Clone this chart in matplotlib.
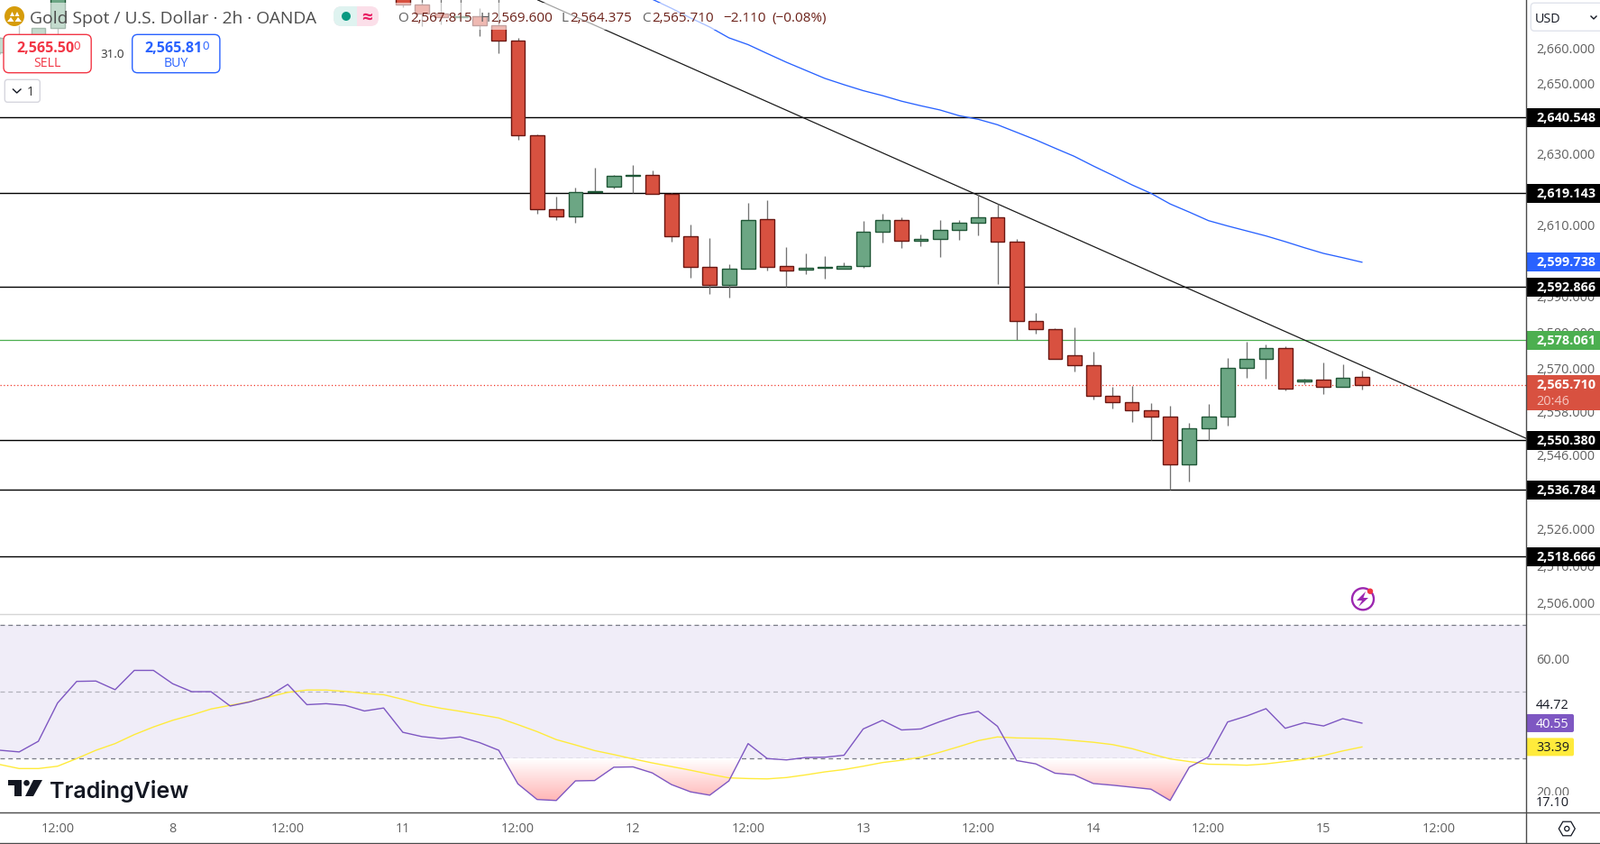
import numpy as np
import matplotlib
matplotlib.use("Agg")
import matplotlib.pyplot as plt
from matplotlib.colors import LinearSegmentedColormap
from matplotlib.patches import Circle, FancyBboxPatch, Polygon, Rectangle
from matplotlib.path import Path
from matplotlib.transforms import ScaledTranslation

plt.rcParams["font.family"] = "Open Sans"

###### DATA ######

# bar number, 2h bars, bars 4-20 are above the visible range
bar_t = [0, 1, 2, 3] + list(range(21, 72))
bar_open = [2659.1, 2661.2, 2662.5, 2666.2, 2676.0, 2672.8, 2670.2, 2669.3, 2669.4, 2666.8, 2662.4, 2635.4, 2614.5,
            2612.5, 2619.5, 2620.9, 2624.1, 2624.2, 2618.9, 2606.9, 2598.3, 2593.3, 2597.8, 2611.7, 2598.6, 2597.6,
            2598.2, 2597.8, 2598.8, 2608.2, 2611.5, 2605.7, 2606.2, 2608.7, 2610.7, 2612.3, 2605.4, 2583.25, 2581.0,
            2573.7, 2571.0, 2562.5, 2560.8, 2558.5, 2557.0, 2543.7, 2553.6, 2557.0, 2570.2, 2572.9, 2575.9, 2566.5,
            2567.0, 2565.0, 2567.815]
bar_high = [2663.6, 2666.9, 2666.2, 2677.0, 2677.0, 2674.5, 2674.5, 2674.5, 2671.8, 2675.0, 2663.2, 2635.8, 2618.1,
            2620.6, 2626.2, 2624.3, 2627.0, 2625.5, 2619.1, 2610.2, 2606.4, 2599.1, 2616.3, 2617.1, 2604.1, 2602.1,
            2601.4, 2599.8, 2611.3, 2613.3, 2612.3, 2607.4, 2611.6, 2611.5, 2618.9, 2616.1, 2606.2, 2585.6, 2581.3,
            2581.6, 2574.8, 2565.1, 2565.3, 2560.6, 2559.85, 2555.1, 2560.3, 2573.0, 2577.5, 2576.9, 2576.4, 2567.3,
            2571.8, 2571.2, 2569.6]
bar_low = [2658.7, 2660.7, 2662.0, 2664.2, 2672.1, 2666.6, 2667.2, 2668.0, 2663.9, 2659.0, 2634.3, 2613.4, 2611.6,
           2610.9, 2619.4, 2620.4, 2619.1, 2618.9, 2605.6, 2595.5, 2590.9, 2589.9, 2597.8, 2597.5, 2592.8, 2596.5,
           2595.2, 2597.8, 2598.2, 2605.3, 2603.8, 2604.3, 2601.3, 2606.1, 2607.3, 2593.7, 2578.0, 2579.9, 2572.7,
           2569.4, 2561.7, 2559.2, 2555.5, 2550.4, 2536.8, 2539.1, 2550.4, 2554.5, 2567.6, 2567.4, 2564.1, 2565.9,
           2563.2, 2565.0, 2564.375]
bar_close = [2663.2, 2663.3, 2666.2, 2676.5, 2672.8, 2670.2, 2669.2, 2669.6, 2666.8, 2662.4, 2635.4, 2614.5, 2612.5,
             2619.4, 2619.7, 2623.9, 2624.3, 2618.9, 2606.9, 2598.3, 2593.3, 2597.8, 2611.5, 2598.3, 2597.3, 2598.1,
             2598.4, 2598.8, 2608.2, 2611.5, 2605.7, 2606.2, 2608.7, 2610.7, 2612.3, 2605.4, 2583.25, 2581.0, 2572.7,
             2571.0, 2562.5, 2560.8, 2558.5, 2557.0, 2543.7, 2553.6, 2557.0, 2570.2, 2572.9, 2575.9, 2564.7, 2567.0,
             2565.0, 2567.7, 2565.71]

# moving average, starts at bar 33
ma_t = list(range(33, 72))
ma_values = [2676.2, 2674.4, 2671.8, 2669.0, 2666.4, 2663.3, 2661.35, 2658.8, 2656.3, 2654.0, 2651.7, 2649.9, 2648.2,
             2646.8, 2645.2, 2643.9, 2642.7, 2641.07, 2640.04, 2638.5, 2636.35, 2634.2, 2631.85, 2629.55, 2626.8,
             2624.2, 2621.5, 2619.1, 2616.1, 2613.8, 2611.4, 2609.9, 2608.5, 2607.1, 2605.5, 2603.8, 2602.2, 2601.0,
             2599.738]

# trend line end points
trend_t = [28.04, 79.56]
trend_p = [2674.17, 2550.9]

black_levels = [2640.548, 2619.143, 2592.866, 2550.38, 2536.784, 2518.666]
green_level = 2578.061
last_price = 2565.71
ma_last = 2599.738

price_ticks = [2660, 2650, 2630, 2610, 2590, 2580, 2570, 2558, 2546, 2526, 2516, 2506]

rsi_values = [32.4, 31.9, 35.1, 46.6, 53.1, 53.2, 50.6, 56.4, 56.4, 52.4, 50.0, 50.0, 45.7, 46.9, 48.6, 52.2, 46.1,
              46.4, 45.9, 44.2, 45.1, 37.8, 36.5, 35.9, 36.4, 34.7, 32.4, 22.3, 17.6, 17.3, 23.2, 23.3, 27.3, 27.4,
              25.6, 22.1, 19.9, 18.9, 23.2, 34.4, 29.9, 29.5, 30.2, 30.3, 30.9, 38.8, 41.4, 38.5, 38.8, 41.0, 42.9,
              44.1, 39.6, 29.3, 28.3, 25.5, 25.0, 22.4, 21.9, 21.3, 20.7, 17.3, 27.3, 30.4, 40.9, 42.7, 44.9, 39.0,
              40.7, 39.7, 41.9, 40.55]
rsi_ma_values = [28.1, 26.9, 26.9, 27.6, 29.9, 32.4, 34.4, 37.1, 39.4, 41.4, 43.0, 44.8, 45.9, 47.0, 48.4, 49.8, 50.5,
                 50.5, 50.1, 49.5, 49.1, 47.7, 46.1, 45.0, 44.1, 43.1, 42.1, 40.1, 38.0, 35.6, 34.0, 32.3, 31.1, 29.8,
                 28.6, 27.5, 26.4, 25.2, 24.1, 23.9, 23.8, 24.2, 25.0, 25.9, 26.6, 27.6, 28.7, 29.4, 30.3, 31.8, 33.5,
                 35.3, 36.4, 36.1, 36.0, 35.8, 35.3, 34.8, 34.1, 32.9, 31.3, 29.8, 29.0, 28.2, 28.1, 27.9, 28.3, 29.0,
                 29.7, 30.8, 32.2, 33.39]
rsi_t = list(range(len(rsi_values)))
rsi_ticks = [60, 20]

time_t = [3, 9, 15, 21, 27, 33, 39, 45, 51, 57, 63, 69, 75]
time_labels = ["12:00", "8", "12:00", "11", "12:00", "12", "12:00", "13", "12:00", "14", "12:00", "15", "12:00"]

###### LAYOUT ######

W, H = 1775, 936
BAR_PX = 21.28
AXIS_X = 1693
MAIN_BOTTOM = 681
RSI_BOTTOM = 901

fig = plt.figure(figsize=(W / 100, H / 100), dpi=100, facecolor="white")
ax = fig.add_axes([0, 1 - MAIN_BOTTOM / H, AXIS_X / W, MAIN_BOTTOM / H])
ax_rsi = fig.add_axes([0, 1 - RSI_BOTTOM / H, AXIS_X / W, (RSI_BOTTOM - MAIN_BOTTOM) / H])
ui = fig.add_axes([0, 0, 1, 1], zorder=10)
ui.set_xlim(0, W)
ui.set_ylim(H, 0)
ui.axis("off")
ui.patch.set_alpha(0)

GREY = "#5f5f5f"
RED = "#d85140"
RED_EDGE = "#6a1712"
GREEN = "#6ca684"
GREEN_EDGE = "#1f5636"

###### PRICE PANE ######

ax.set_yscale("log")
ax.set_xlim(0, AXIS_X / BAR_PX)
ax.set_ylim(2503.1, 2674.17)

ax.hlines(black_levels, -1, AXIS_X / BAR_PX, color="black", lw=1.0, zorder=1)
ax.axhline(green_level, color="#4caf50", lw=0.9, zorder=1)
ax.axhline(last_price, color="#f0392b", lw=0.9, ls=(0, (1, 2)), zorder=1)
ax.plot(trend_t, trend_p, color="#1c1c1c", lw=0.9, zorder=2)
ax.plot(ma_t, ma_values, color="#2962ff", lw=0.95, zorder=2)

t = np.array(bar_t)
o = np.array(bar_open)
h = np.array(bar_high)
l = np.array(bar_low)
c = np.array(bar_close)
up = c >= o
ax.vlines(t, l, h, color="#737373", lw=0.95, zorder=3)
ax.bar(t[up], c[up] - o[up], bottom=o[up], width=0.74, color=GREEN, edgecolor=GREEN_EDGE, lw=1.0, zorder=4)
ax.bar(t[~up], o[~up] - c[~up], bottom=c[~up], width=0.74, color=RED, edgecolor=RED_EDGE, lw=1.0, zorder=4)

ax.set_xticks([])
ax.minorticks_off()
ax.yaxis.tick_right()
ax.set_yticks(price_ticks)
ax.set_yticklabels([f"{p:,.3f}" for p in price_ticks], color=GREY, fontsize=10.4)
ax.tick_params(axis="y", which="both", length=0, pad=8)
for lbl in ax.get_yticklabels():
    lbl.set_transform(lbl.get_transform() + ScaledTranslation(0, 1 / 100, fig.dpi_scale_trans))
for s in ax.spines.values():
    s.set_visible(False)

###### RSI PANE ######

ax_rsi.set_xlim(0, AXIS_X / BAR_PX)
ax_rsi.set_ylim(13.71, 73.33)
ax_rsi.axhspan(30, 70, color="#f0edf8", lw=0, zorder=0)
ax_rsi.axhline(70, color="#787b86", lw=0.9, ls=(0, (4, 3)), zorder=1)
ax_rsi.axhline(50, color="#b2b2bb", lw=0.9, ls=(0, (4, 3)), zorder=1)
ax_rsi.axhline(30, color="#787b86", lw=0.9, ls=(0, (4, 3)), zorder=1)

rsi = np.array(rsi_values)
low_zone = ax_rsi.fill_between(rsi_t, rsi, 30, where=rsi < 30, interpolate=True, color="none", lw=0)
cmap = LinearSegmentedColormap.from_list("oversold", ["#ffb4b4", "#ffffff"])
grad = ax_rsi.imshow(np.linspace(0, 1, 64)[::-1].reshape(-1, 1), extent=[0, AXIS_X / BAR_PX, 17, 30],
                     aspect="auto", cmap=cmap, zorder=1)
grad.set_clip_path(Path.make_compound_path(*low_zone.get_paths()), transform=ax_rsi.transData)
ax_rsi.set_xlim(0, AXIS_X / BAR_PX)
ax_rsi.set_ylim(13.71, 73.33)

ax_rsi.plot(rsi_t, rsi_ma_values, color="#ffeb3b", lw=1.0, zorder=2)
ax_rsi.plot(rsi_t, rsi_values, color="#7e57c2", lw=1.0, zorder=3)

ax_rsi.yaxis.tick_right()
ax_rsi.set_yticks(rsi_ticks)
ax_rsi.set_yticklabels([f"{v:.2f}" for v in rsi_ticks], color=GREY, fontsize=10.4)
ax_rsi.set_xticks(time_t)
ax_rsi.set_xticklabels(time_labels, color=GREY, fontsize=10.4)
ax_rsi.tick_params(axis="y", length=0, pad=8)
ax_rsi.tick_params(axis="x", length=0, pad=8)
for s in ax_rsi.spines.values():
    s.set_visible(False)

###### OVERLAY ######

def py(axis, value):
    return H - axis.transData.transform((0, value))[1]


def tag(value, text, bg):
    y = py(ax, value)
    ui.add_patch(Rectangle((AXIS_X, y - 10.5), W - AXIS_X, 21, color=bg, lw=0))
    ui.text(1704, y - 1, text, color="white", fontsize=10.4, weight="bold", va="center_baseline")


def rsi_tag(value, text, bg, fg, y=None):
    y = py(ax_rsi, value) if y is None else y
    ui.add_patch(FancyBboxPatch((AXIS_X, y - 10), 53, 20, boxstyle="round,pad=0,rounding_size=2", color=bg, lw=0))
    ui.text(1704, y - 0.5, text, color=fg, fontsize=10.4, va="center_baseline")


# legend backdrops fade what is under them
ui.add_patch(Rectangle((0, 3), 925, 30, color="white", alpha=0.6, lw=0))
ui.add_patch(Rectangle((0, 33), 248, 51, color="white", alpha=0.6, lw=0))

# pane borders
ui.plot([0, W], [MAIN_BOTTOM, MAIN_BOTTOM], color="#d6d6d6", lw=1)
ui.plot([0, W], [RSI_BOTTOM, RSI_BOTTOM], color="#4a4a4a", lw=1)
ui.plot([0, W], [935.3, 935.3], color="#4a4a4a", lw=1)
ui.plot([AXIS_X, AXIS_X], [0, H], color="#4a4a4a", lw=1)

for p in black_levels:
    tag(p, f"{p:,.3f}", "black")
tag(ma_last, f"{ma_last:,.3f}", "#2962ff")
tag(green_level, f"{green_level:,.3f}", "#4caf50")

y_last = py(ax, last_price)
ui.add_patch(Rectangle((AXIS_X, y_last - 10.5), W - AXIS_X, 39, color=RED, lw=0))
ui.text(1704, y_last - 1, f"{last_price:,.3f}", color="white", fontsize=10.4, weight="bold", va="center_baseline")
ui.text(1704, y_last + 17, "20:46", color="#f5c6c0", fontsize=10.4, va="center_baseline")

ui.add_patch(Rectangle((AXIS_X + 1, 771), 60, 21, color="white", lw=0))
ui.text(1704, 781, "44.72", color="#131722", fontsize=10.4, va="center_baseline")
rsi_tag(rsi_values[-1], f"{rsi_values[-1]:.2f}", "#7e57c2", "white")
rsi_tag(rsi_ma_values[-1], f"{rsi_ma_values[-1]:.2f}", "#ffeb3b", "#131722")
ui.add_patch(Rectangle((AXIS_X + 1, 882), 60, 15, color="white", lw=0))
ui.text(1704, 888.6, "17.10", color="#131722", fontsize=10.4, va="center_baseline")

# title row
ui.add_patch(Circle((16, 18), 11, color="#d69c0a", lw=0))
for pts in ([(11, 18), (16, 18), (13.5, 13)], [(16.5, 18), (21.5, 18), (19, 13)], [(8, 24), (15.5, 24), (12, 19)],
            [(16.5, 24), (24, 24), (20, 19)]):
    ui.add_patch(Polygon(pts, color="white", lw=0))
ui.text(33, 19, "Gold Spot / U.S. Dollar \u00b7 2h \u00b7 OANDA", color="#4e4e4e", fontsize=13.85, va="center_baseline")

ui.add_patch(FancyBboxPatch((370, 7), 50, 22, boxstyle="round,pad=0,rounding_size=9", color="#fbdfe9", lw=0))
ui.add_patch(FancyBboxPatch((370, 7), 26, 22, boxstyle="round,pad=0,rounding_size=9", color="#dff3f0", lw=0))
ui.add_patch(Rectangle((388, 7), 8, 22, color="#dff3f0", lw=0))
ui.add_patch(Circle((384, 18), 5, color="#089981", lw=0))
ui.text(407, 18, "\u2248", color="#e91e63", fontsize=15, weight="bold", ha="center", va="center_baseline")

ohlc = [(441, "O", GREY), (455, "2,567.815", "#6b2018"), (533, "H", GREY), (544, "2,569.600", "#6b2018"),
        (623, "L", GREY), (632, "2,564.375", "#6b2018"), (712, "C", GREY), (723, "2,565.710", "#6b2018"),
        (802, "\u22122.110", "#6b2018"), (856, "(\u22120.08%)", "#6b2018")]
for x, s, col in ohlc:
    ui.text(x, 18.5, s, color=col, fontsize=11, va="center_baseline")

# sell / buy buttons
for x0, col, main, word, y_word in ((4, "#f23645", "2,565.50", "SELL", 52.5), (146.7, "#2962ff", "2,565.81", "BUY", 195)):
    ui.add_patch(FancyBboxPatch((x0, 38.3), 97.2, 42.4, boxstyle="round,pad=0,rounding_size=6", fc="white", ec=col, lw=1))
    ui.text(x0 + 14, 51.7, main, color=col, fontsize=11.6, weight="bold", va="center_baseline")
    ui.text(x0 + 77.8, 49.8, "0", color=col, fontsize=9.5, va="center_baseline")
    ui.text(y_word, 69, word, color=col, fontsize=10.2, ha="center", va="center_baseline")
ui.text(124.3, 58.7, "31.0", color="#333333", fontsize=9.6, ha="center", va="center_baseline")

ui.add_patch(FancyBboxPatch((5.3, 88.3), 39, 25, boxstyle="round,pad=0,rounding_size=3", fc="white", ec="#d6d6de", lw=1))
ui.plot([14.5, 18.7, 23], [99, 103, 99], color="#131722", lw=1)
ui.text(34, 101, "1", color="#333333", fontsize=10.4, ha="center", va="center_baseline")

# currency box
ui.add_patch(FancyBboxPatch((1698.3, 3.3), 90, 31, boxstyle="round,pad=0,rounding_size=4", fc="white", ec="#e0e3eb", lw=1))
ui.text(1703, 19.3, "USD", color="#131722", fontsize=10.4, va="center_baseline")
ui.plot([1765, 1768, 1771], [18, 21, 18], color="#131722", lw=1)

# alert icon
ui.add_patch(Circle((1512, 664.3), 12, fc="none", ec="#9c27b0", lw=1.7))
ui.add_patch(Polygon([(1515, 656), (1505, 666), (1511, 666), (1507, 673), (1518, 663), (1512.5, 663)], color="#9c27b0", lw=0))
ui.add_patch(Circle((1520, 655.7), 3.2, color="#f23645", lw=0))

# settings icon
a = np.deg2rad(np.arange(0, 360, 60))
ui.add_patch(Polygon(np.c_[1738.3 + 9 * np.cos(a), 919 + 9 * np.sin(a)], fc="none", ec="#131722", lw=0.9))
ui.add_patch(Circle((1738.3, 919), 2.6, fc="none", ec="#131722", lw=0.9))

# logo
ui.add_patch(Polygon([(9, 865), (24, 865), (24, 883), (16, 883), (16, 871), (9, 871)], color="#131722", lw=0))
ui.add_patch(Circle((29.5, 868.3), 3.3, color="#131722", lw=0))
ui.add_patch(Polygon([(37, 865), (47, 865), (37, 883), (28, 883)], color="#131722", lw=0))
ui.text(55, 875, "TradingView", color="#131722", fontsize=18, family="Inter", weight="semibold", va="center_baseline")

fig.savefig("out.png", dpi=100)
